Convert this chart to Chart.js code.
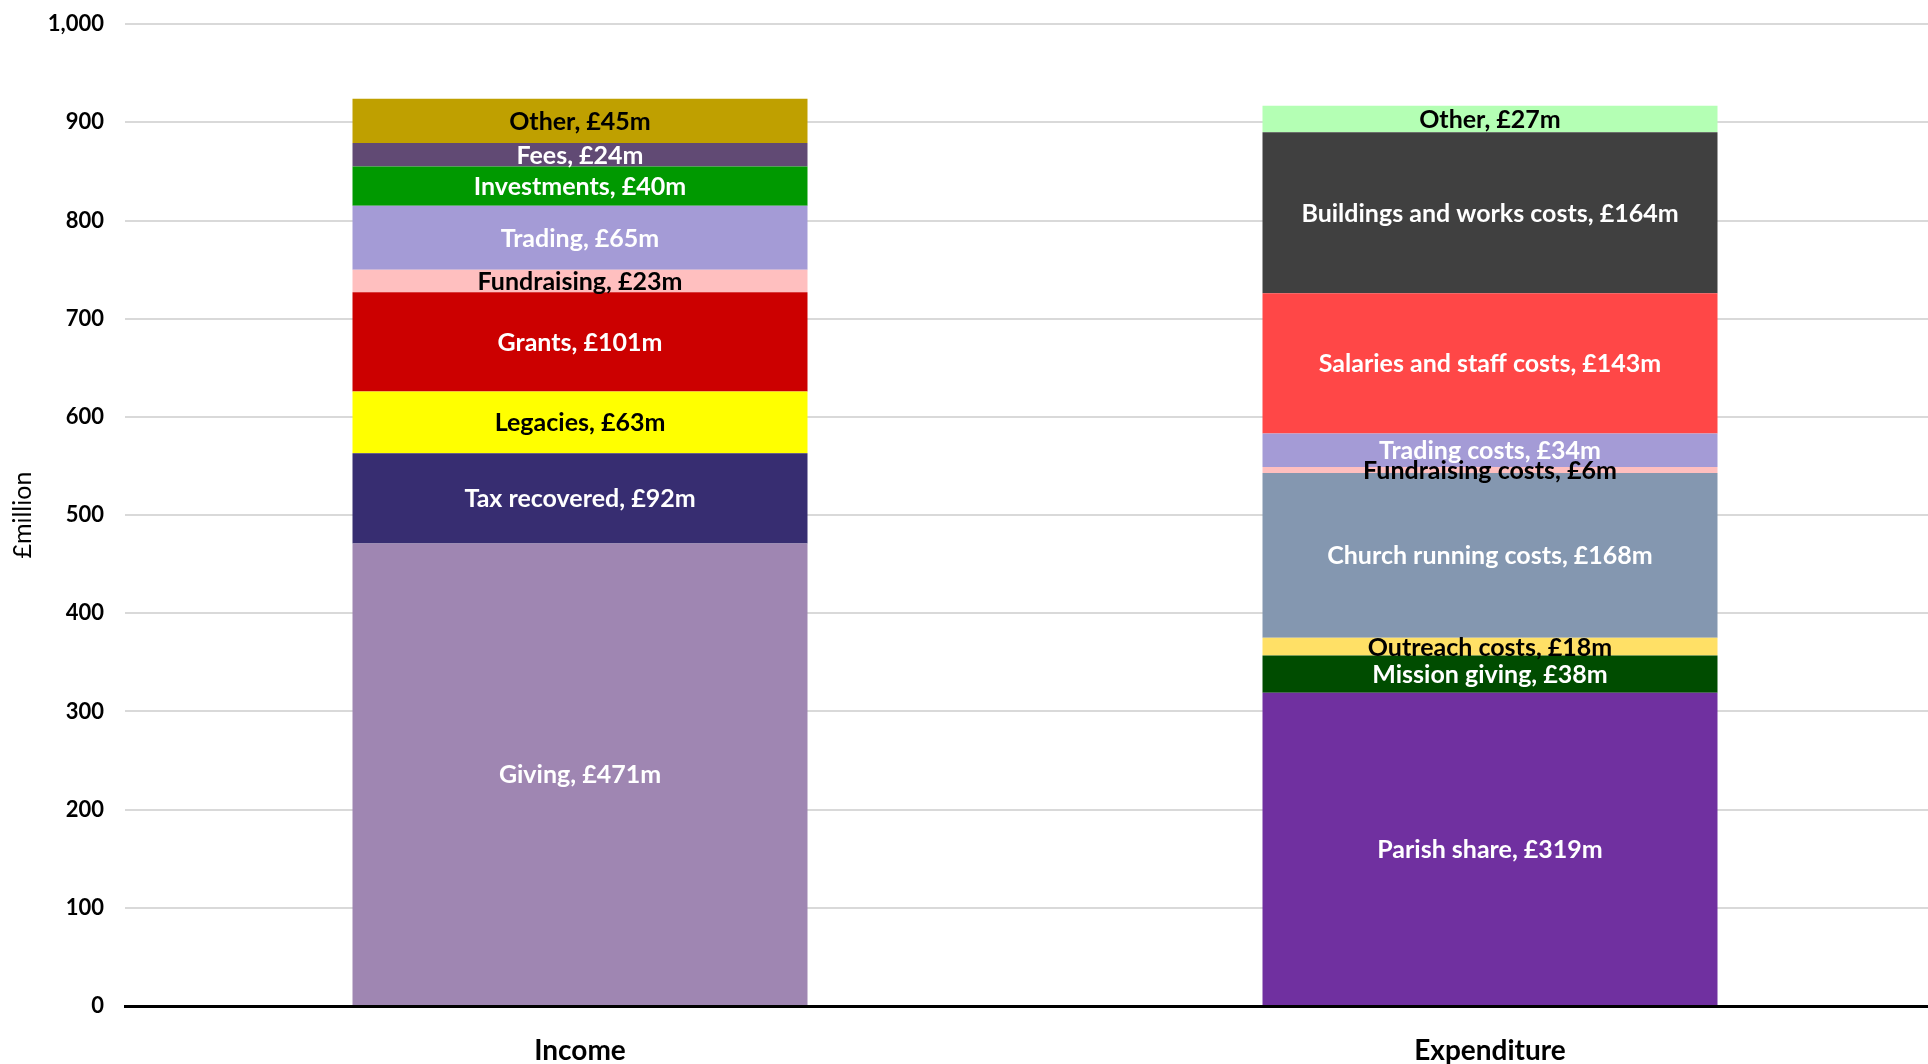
<!DOCTYPE html>
<html>
<head>
<meta charset="utf-8">
<script src="https://cdn.jsdelivr.net/npm/chart.js@4.4.1/dist/chart.umd.min.js"></script>
<style>
  html, body { margin: 0; padding: 0; background: #fff; overflow: hidden; }
  #wrap { width: 1928px; height: 1064px; overflow: hidden; }
  #chart { display: block; margin-top: -10px; }
</style>
</head>
<body>
<div id="wrap"><canvas id="chart" width="1945" height="1074"></canvas></div>
<script>
// Categories on the x axis
const categories = ["Income", "Expenditure"];

// Income segments, bottom to top (£m)
const incomeNames = ["Giving", "Tax recovered", "Legacies", "Grants", "Fundraising", "Trading", "Investments", "Fees", "Other"];
const incomeValues = [471, 92, 63, 101, 23, 65, 40, 24, 45];
const incomeColors = ["#9f86b2", "#372d71", "#ffff00", "#cc0000", "#ffbfbf", "#a49bd6", "#009900", "#614a74", "#bfa000"];
const incomeText = ["#fff", "#fff", "#000", "#fff", "#000", "#fff", "#fff", "#fff", "#000"];

// Expenditure segments, bottom to top (£m)
const expenditureNames = ["Parish share", "Mission giving", "Outreach costs", "Church running costs", "Fundraising costs", "Trading costs", "Salaries and staff costs", "Buildings and works costs", "Other"];
const expenditureValues = [319, 38, 18, 168, 6, 34, 143, 164, 27];
const expenditureColors = ["#7030a0", "#004c00", "#ffe066", "#8497b0", "#ffbfbf", "#a49bd6", "#ff4747", "#404040", "#b4ffb4"];
const expenditureText = ["#fff", "#fff", "#000", "#fff", "#000", "#fff", "#fff", "#fff", "#000"];

// Y axis ticks
const yTicks = [0, 100, 200, 300, 400, 500, 600, 700, 800, 900, 1000];

const FONT = "Lato, 'DejaVu Sans', sans-serif";

// Build one dataset per segment
const datasets = [];
incomeNames.forEach((name, i) => {
  datasets.push({
    label: name,
    data: [incomeValues[i], null],
    backgroundColor: incomeColors[i],
    textColor: incomeText[i],
    stack: "s",
  });
});
expenditureNames.forEach((name, i) => {
  datasets.push({
    label: name,
    data: [null, expenditureValues[i]],
    backgroundColor: expenditureColors[i],
    textColor: expenditureText[i],
    stack: "s",
  });
});

// Draw "Name, £Xm" in the middle of each segment
const segmentLabels = {
  id: "segmentLabels",
  afterDatasetsDraw(chart) {
    const ctx = chart.ctx;
    ctx.save();
    ctx.font = "bold 25px " + FONT;
    ctx.textAlign = "center";
    ctx.textBaseline = "middle";
    chart.data.datasets.forEach((ds, di) => {
      const meta = chart.getDatasetMeta(di);
      meta.data.forEach((bar, idx) => {
        const v = ds.data[idx];
        if (v == null) return;
        const y = (bar.y + bar.base) / 2 + 1;
        ctx.fillStyle = ds.textColor;
        ctx.fillText(ds.label + ", £" + v + "m", bar.x, y);
      });
    });
    ctx.restore();
  },
};

new Chart(document.getElementById("chart").getContext("2d"), {
  type: "bar",
  data: { labels: categories, datasets: datasets },
  plugins: [segmentLabels],
  options: {
    responsive: false,
    animation: false,
    barPercentage: 0.5,
    categoryPercentage: 1.0,
    layout: { padding: { top: 13, right: 0, bottom: 0, left: 0 } },
    plugins: {
      legend: { display: false },
      tooltip: { enabled: false },
    },
    scales: {
      x: {
        stacked: true,
        afterFit(scale) { scale.height = 58; },
        grid: { display: false },
        border: { display: true, color: "#000", width: 3 },
        ticks: {
          color: "#000",
          padding: 20,
          font: { family: FONT, size: 28, weight: "bold" },
        },
      },
      y: {
        stacked: true,
        min: 0,
        max: 1000,
        afterFit(scale) { scale.width = 125; },
        afterBuildTicks(scale) { scale.ticks = yTicks.map(v => ({ value: v })); },
        grid: { color: "#d9d9d9", lineWidth: 2, drawTicks: false },
        border: { display: false },
        title: {
          display: true,
          text: "£million",
          color: "#000",
          font: { family: FONT, size: 25 },
          padding: { top: 8, bottom: 0 },
        },
        ticks: {
          color: "#000",
          padding: 21,
          font: { family: FONT, size: 22, weight: "bold" },
          callback: v => v.toLocaleString("en-GB"),
        },
      },
    },
  },
});
</script>
</body>
</html>
